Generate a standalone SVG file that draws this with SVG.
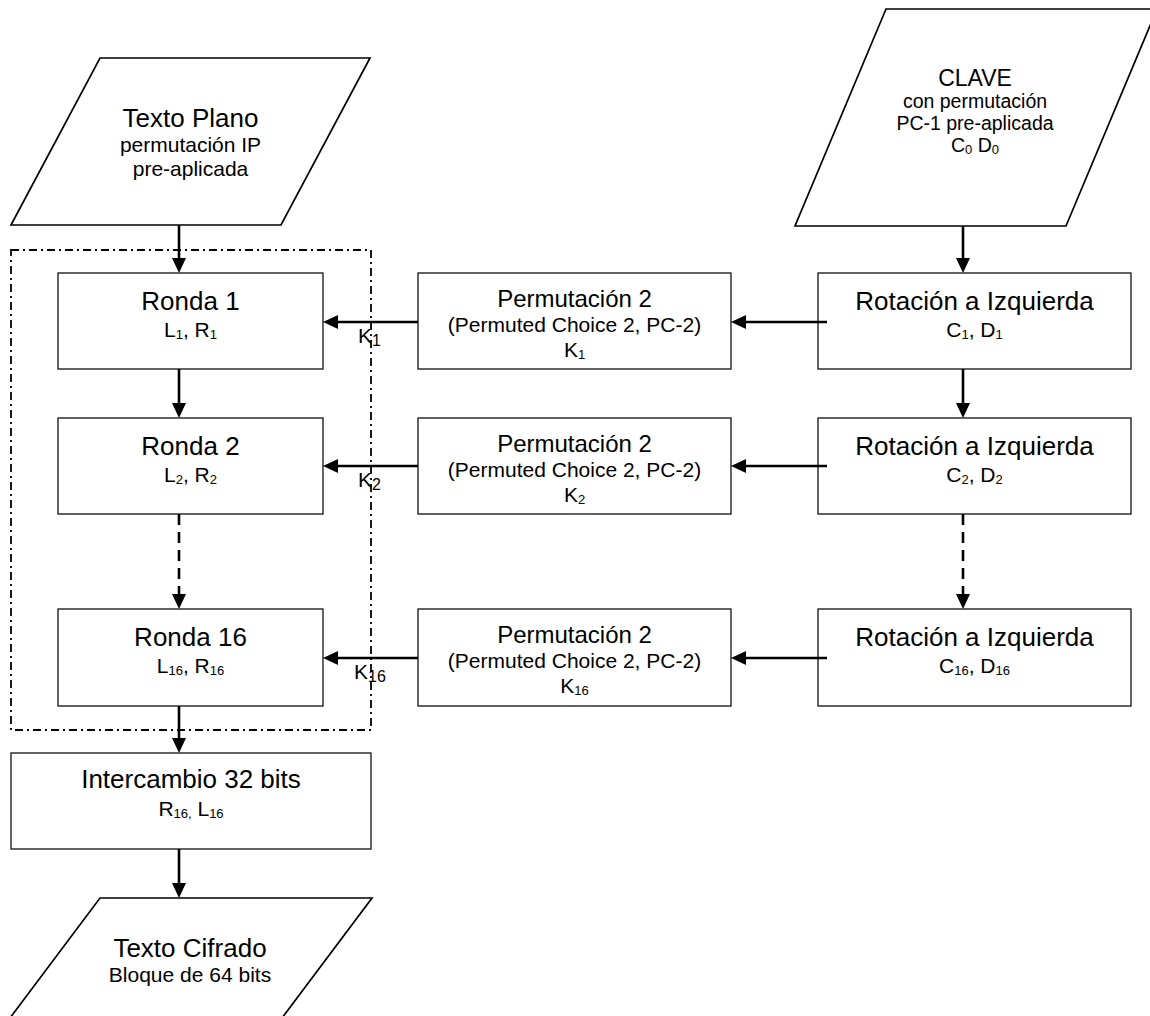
<svg xmlns="http://www.w3.org/2000/svg" width="1150" height="1016" viewBox="0 0 1150 1016">
<style>
  text { font-family: "Liberation Sans", Arial, sans-serif; fill: #000; }
  .t26 { font-size: 26px; }
  .t24 { font-size: 24px; }
  .t23 { font-size: 23px; }
  .t21 { font-size: 21px; }
  .t20 { font-size: 19.5px; }
  .s { font-size: 13px; }
  .ks { font-size: 16px; }
  .box { fill: #fff; stroke: #222; stroke-width: 1.4; }
  .para { fill: #fff; stroke: #000; stroke-width: 1.7; }
  .conn { stroke: #000; stroke-width: 2.6; fill: none; }
  .dash { stroke-dasharray: 11 7; }
  .frame { fill: none; stroke: #000; stroke-width: 1.8; stroke-dasharray: 8 4 2 4; }
</style>
<defs>
  <marker id="ah" viewBox="0 0 15 14" markerWidth="15" markerHeight="14" refX="7" refY="7" orient="auto" markerUnits="userSpaceOnUse">
    <path d="M0,0 L15,7 L0,14 z" fill="#000"/>
  </marker>
</defs>

<g id="texto-plano">
  <polygon class="para" points="100,58 370,58 281,225 11,225"/>
  <text class="t26" x="190.5" y="127" text-anchor="middle">Texto Plano</text>
  <text class="t21" x="190.5" y="152" text-anchor="middle">permutación IP</text>
  <text class="t21" x="190.5" y="176" text-anchor="middle">pre-aplicada</text>
</g>

<g id="clave">
  <polygon class="para" points="886,9 1157,9 1066,226 795,226"/>
  <text class="t23" x="975" y="86" text-anchor="middle">CLAVE</text>
  <text class="t20" x="975" y="108" text-anchor="middle">con permutación</text>
  <text class="t20" x="975" y="130" text-anchor="middle">PC-1 pre-aplicada</text>
  <text class="t20" x="975" y="152" text-anchor="middle">C<tspan class="s" dy="2">0</tspan><tspan dy="-2"> D</tspan><tspan class="s" dy="2">0</tspan></text>
</g>

<g id="frame">
  <rect class="frame" x="11" y="250" width="360" height="480"/>
</g>

<g id="ronda1">
  <rect class="box" x="58" y="273" width="265" height="96"/>
  <text class="t26" x="190.5" y="310" text-anchor="middle">Ronda 1</text>
  <text class="t21" x="190.5" y="337" text-anchor="middle">L<tspan class="s" dy="2">1</tspan><tspan dy="-2">, R</tspan><tspan class="s" dy="2">1</tspan></text>
</g>
<g id="ronda2">
  <rect class="box" x="58" y="418" width="265" height="96"/>
  <text class="t26" x="190.5" y="455" text-anchor="middle">Ronda 2</text>
  <text class="t21" x="190.5" y="482" text-anchor="middle">L<tspan class="s" dy="2">2</tspan><tspan dy="-2">, R</tspan><tspan class="s" dy="2">2</tspan></text>
</g>
<g id="ronda16">
  <rect class="box" x="58" y="609" width="265" height="97"/>
  <text class="t26" x="190.5" y="646" text-anchor="middle">Ronda 16</text>
  <text class="t21" x="190.5" y="673" text-anchor="middle">L<tspan class="s" dy="2">16</tspan><tspan dy="-2">, R</tspan><tspan class="s" dy="2">16</tspan></text>
</g>

<g id="perm1">
  <rect class="box" x="418" y="273" width="313" height="96"/>
  <text class="t24" x="574.5" y="307" text-anchor="middle">Permutación 2</text>
  <text class="t21" x="574.5" y="332" text-anchor="middle">(Permuted Choice 2, PC-2)</text>
  <text class="t21" x="574.5" y="357" text-anchor="middle">K<tspan class="s" dy="2">1</tspan></text>
</g>
<g id="perm2">
  <rect class="box" x="418" y="418" width="313" height="96"/>
  <text class="t24" x="574.5" y="452" text-anchor="middle">Permutación 2</text>
  <text class="t21" x="574.5" y="477" text-anchor="middle">(Permuted Choice 2, PC-2)</text>
  <text class="t21" x="574.5" y="502" text-anchor="middle">K<tspan class="s" dy="2">2</tspan></text>
</g>
<g id="perm16">
  <rect class="box" x="418" y="609" width="313" height="97"/>
  <text class="t24" x="574.5" y="643" text-anchor="middle">Permutación 2</text>
  <text class="t21" x="574.5" y="668" text-anchor="middle">(Permuted Choice 2, PC-2)</text>
  <text class="t21" x="574.5" y="693" text-anchor="middle">K<tspan class="s" dy="2">16</tspan></text>
</g>

<g id="rot1">
  <rect class="box" x="818" y="273" width="313" height="96"/>
  <text class="t26" x="974.5" y="310" text-anchor="middle">Rotación a Izquierda</text>
  <text class="t21" x="974.5" y="337" text-anchor="middle">C<tspan class="s" dy="2">1</tspan><tspan dy="-2">, D</tspan><tspan class="s" dy="2">1</tspan></text>
</g>
<g id="rot2">
  <rect class="box" x="818" y="418" width="313" height="96"/>
  <text class="t26" x="974.5" y="455" text-anchor="middle">Rotación a Izquierda</text>
  <text class="t21" x="974.5" y="482" text-anchor="middle">C<tspan class="s" dy="2">2</tspan><tspan dy="-2">, D</tspan><tspan class="s" dy="2">2</tspan></text>
</g>
<g id="rot16">
  <rect class="box" x="818" y="609" width="313" height="97"/>
  <text class="t26" x="974.5" y="646" text-anchor="middle">Rotación a Izquierda</text>
  <text class="t21" x="974.5" y="673" text-anchor="middle">C<tspan class="s" dy="2">16</tspan><tspan dy="-2">, D</tspan><tspan class="s" dy="2">16</tspan></text>
</g>

<g id="intercambio">
  <rect class="box" x="11" y="753" width="360" height="96"/>
  <text class="t26" x="191" y="788" text-anchor="middle">Intercambio 32 bits</text>
  <text class="t21" x="191" y="816" text-anchor="middle">R<tspan class="s" dy="2">16,</tspan><tspan dy="-2"> L</tspan><tspan class="s" dy="2">16</tspan></text>
</g>

<g id="texto-cifrado">
  <polygon class="para" points="100,898 372,898 282,1018 10,1018"/>
  <text class="t26" x="190" y="957" text-anchor="middle">Texto Cifrado</text>
  <text class="t21" x="190" y="982" text-anchor="middle">Bloque de 64 bits</text>
</g>

<g id="connectors">
  <line class="conn" x1="179" y1="225" x2="179" y2="265" marker-end="url(#ah)"/>
  <line class="conn" x1="179" y1="369" x2="179" y2="410" marker-end="url(#ah)"/>
  <line class="conn dash" x1="179" y1="514" x2="179" y2="601" marker-end="url(#ah)"/>
  <line class="conn" x1="179" y1="706" x2="179" y2="745" marker-end="url(#ah)"/>
  <line class="conn" x1="179" y1="849" x2="179" y2="890" marker-end="url(#ah)"/>

  <line class="conn" x1="963" y1="226" x2="963" y2="265" marker-end="url(#ah)"/>
  <line class="conn" x1="963" y1="369" x2="963" y2="410" marker-end="url(#ah)"/>
  <line class="conn dash" x1="963" y1="514" x2="963" y2="601" marker-end="url(#ah)"/>

  <line class="conn" x1="418" y1="322" x2="331" y2="322" marker-end="url(#ah)"/>
  <line class="conn" x1="418" y1="466" x2="331" y2="466" marker-end="url(#ah)"/>
  <line class="conn" x1="418" y1="658" x2="331" y2="658" marker-end="url(#ah)"/>

  <line class="conn" x1="827" y1="322" x2="739" y2="322" marker-end="url(#ah)"/>
  <line class="conn" x1="827" y1="466" x2="739" y2="466" marker-end="url(#ah)"/>
  <line class="conn" x1="827" y1="658" x2="739" y2="658" marker-end="url(#ah)"/>

  <text class="t21" x="358" y="343">K<tspan class="ks" dy="3">1</tspan></text>
  <text class="t21" x="358" y="487">K<tspan class="ks" dy="3">2</tspan></text>
  <text class="t21" x="354" y="679">K<tspan class="ks" dy="3">16</tspan></text>
</g>
</svg>
